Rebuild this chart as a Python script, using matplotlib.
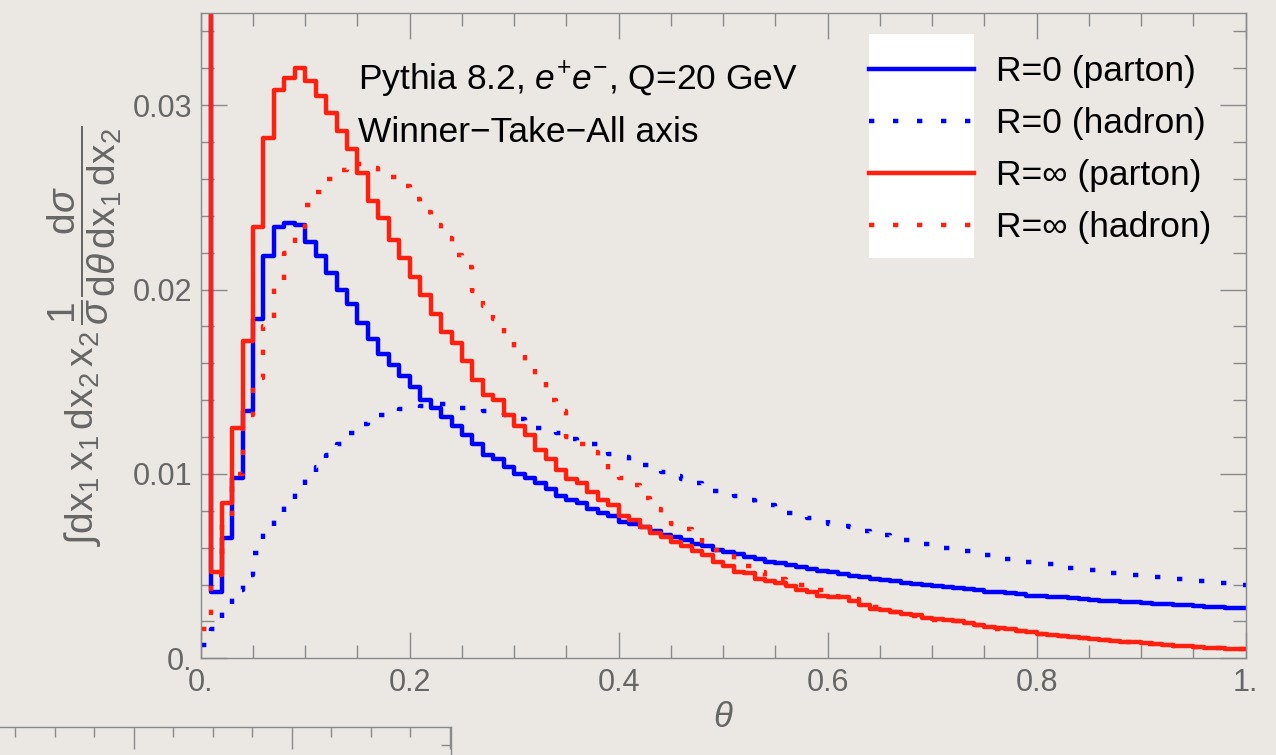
import numpy as np
import matplotlib
matplotlib.use("Agg")
import matplotlib.pyplot as plt
from matplotlib.ticker import MultipleLocator
from matplotlib.patches import Rectangle

# histogram bins: 100 bins of width 0.01 on [0, 1]
theta_edges = np.linspace(0.0, 1.0, 101)

# R=0 (parton)  -- first bin runs off the top of the plot
blue_parton = [
    0.06, 0.0036, 0.0065, 0.0098, 0.0134, 0.0184, 0.0218, 0.0234, 0.0236, 0.0235,
    0.0226, 0.0218, 0.0209, 0.0200, 0.0192, 0.0182, 0.0173, 0.0165, 0.0159, 0.0153,
    0.0147, 0.0140, 0.0136, 0.0131, 0.0126, 0.0121, 0.0116, 0.0110, 0.0108, 0.0104,
    0.0100, 0.0098, 0.0095, 0.0092, 0.0088, 0.0086, 0.0084, 0.0081, 0.0079, 0.0077,
    0.0074, 0.0073, 0.0071, 0.0069, 0.0067, 0.0066, 0.0064, 0.0062, 0.0061, 0.0059,
    0.00575, 0.00566, 0.00551, 0.00537, 0.00524, 0.00515, 0.00506, 0.00497, 0.00485, 0.00475,
    0.0047, 0.00457, 0.00448, 0.00439, 0.0043, 0.00425, 0.0042, 0.0041, 0.00405, 0.0040,
    0.0039, 0.00385, 0.0038, 0.00375, 0.0037, 0.00362, 0.00357, 0.00352, 0.00347, 0.0034,
    0.00336, 0.00333, 0.0033, 0.00325, 0.0032, 0.00316, 0.00313, 0.0031, 0.00306, 0.00303,
    0.0030, 0.00297, 0.00293, 0.0029, 0.00287, 0.00284, 0.0028, 0.00277, 0.00274, 0.00271,
]

# R=0 (hadron)
blue_hadron = [
    0.0007, 0.0016, 0.0027, 0.0037, 0.0045, 0.0057, 0.0068, 0.0076, 0.0083, 0.0090,
    0.0097, 0.0104, 0.0110, 0.0116, 0.0122, 0.0127, 0.0130, 0.0132, 0.0134, 0.0135,
    0.0136, 0.0137, 0.0138, 0.0138, 0.0136, 0.0136, 0.0135, 0.0134, 0.0133, 0.0132,
    0.0130, 0.0128, 0.0125, 0.0124, 0.0122, 0.0119, 0.0117, 0.0116, 0.0114, 0.0111,
    0.0109, 0.0107, 0.0105, 0.0103, 0.0101, 0.0099, 0.0097, 0.0095, 0.0093, 0.0091,
    0.0090, 0.0088, 0.0086, 0.0084, 0.0083, 0.0081, 0.0079, 0.0078, 0.0076, 0.0075,
    0.0073, 0.0072, 0.0071, 0.0069, 0.0068, 0.0067, 0.0066, 0.0064, 0.0063, 0.0062,
    0.0061, 0.0060, 0.0059, 0.0058, 0.0057, 0.0056, 0.0055, 0.0054, 0.0053, 0.0052,
    0.0052, 0.0051, 0.0050, 0.0049, 0.0049, 0.0048, 0.0047, 0.0046, 0.0046, 0.0045,
    0.0045, 0.0044, 0.0044, 0.0043, 0.0043, 0.0042, 0.0042, 0.0041, 0.0041, 0.0040,
]

# R=inf (parton)  -- first bin runs off the top of the plot
red_parton = [
    0.06, 0.0047, 0.0084, 0.0125, 0.0172, 0.0234, 0.0282, 0.0308, 0.0315, 0.0320,
    0.0313, 0.0305, 0.0296, 0.0286, 0.0276, 0.0263, 0.0248, 0.0239, 0.0227, 0.0217,
    0.0207, 0.0197, 0.0187, 0.0177, 0.0171, 0.0161, 0.0151, 0.0143, 0.0140, 0.0132,
    0.0126, 0.0121, 0.0113, 0.0108, 0.0102, 0.0097, 0.0095, 0.0090, 0.0086, 0.0083,
    0.0077, 0.0075, 0.0071, 0.0068, 0.0066, 0.0063, 0.0061, 0.0058, 0.0056, 0.0052,
    0.0050, 0.0047, 0.0046, 0.0043, 0.0042, 0.0041, 0.0039, 0.0037, 0.0036, 0.0034,
    0.0033, 0.0033, 0.0031, 0.0029, 0.0027, 0.0026, 0.0025, 0.0024, 0.00235, 0.0022,
    0.00215, 0.0021, 0.0020, 0.0019, 0.0018, 0.00172, 0.00165, 0.00158, 0.0015, 0.0014,
    0.0013, 0.00126, 0.0012, 0.00113, 0.00108, 0.00104, 0.0010, 0.00096, 0.00091, 0.00086,
    0.00081, 0.00077, 0.00072, 0.00068, 0.00065, 0.0006, 0.00056, 0.00054, 0.00051, 0.00049,
]

# R=inf (hadron)
red_hadron = [
    0.0016, 0.0045, 0.0075, 0.0100, 0.0132, 0.0152, 0.0180, 0.0202, 0.0220, 0.0234,
    0.0246, 0.0253, 0.0260, 0.0265, 0.0269, 0.0268, 0.0266, 0.0264, 0.0261, 0.0256,
    0.0249, 0.0242, 0.0235, 0.0228, 0.0219, 0.0212, 0.0199, 0.0191, 0.0184, 0.0176,
    0.0165, 0.0160, 0.0150, 0.0140, 0.0134, 0.0120, 0.0116, 0.0112, 0.0107, 0.0102,
    0.0098, 0.0094, 0.0087, 0.0081, 0.0076, 0.0073, 0.0070, 0.0067, 0.0061, 0.0059,
    0.0057, 0.0053, 0.0050, 0.0047, 0.0044, 0.0043, 0.0042, 0.0040, 0.0039, 0.0037,
    0.0035, 0.0033, 0.0032, 0.0030, 0.0028, 0.0027, 0.0025, 0.0024, 0.0023, 0.0022,
    0.0021, 0.0021, 0.0020, 0.0019, 0.0018, 0.0017, 0.0016, 0.0016, 0.0015, 0.0014,
    0.0013, 0.0013, 0.0012, 0.0011, 0.0011, 0.0010, 0.0010, 0.00095, 0.0009, 0.00085,
    0.0008, 0.00076, 0.00072, 0.00068, 0.00064, 0.0006, 0.00057, 0.00054, 0.00051, 0.00049,
]

series_labels = ["R=0 (parton)", "R=0 (hadron)", "R=\u221e (parton)", "R=\u221e (hadron)"]
x_ticks = [0.0, 0.2, 0.4, 0.6, 0.8, 1.0]
x_tick_labels = ["0.", "0.2", "0.4", "0.6", "0.8", "1."]
y_ticks = [0.0, 0.01, 0.02, 0.03]
y_tick_labels = ["0.", "0.01", "0.02", "0.03"]

plt.rcParams['font.family'] = ['Liberation Sans', 'DejaVu Sans']
plt.rcParams['mathtext.fontset'] = 'custom'
plt.rcParams['mathtext.rm'] = 'Liberation Sans'
plt.rcParams['mathtext.it'] = 'Liberation Sans:italic'
plt.rcParams['mathtext.bf'] = 'Liberation Sans:bold'

bg = '#ebe8e4'
gray = '#666666'
spine_gray = '#8a8a8a'
blue = '#0000ff'
red = '#ff2010'

fig = plt.figure(figsize=(12.76, 7.55), dpi=100, facecolor=bg)
ax = fig.add_axes([200.7 / 1276, 1 - 658.3 / 755, 1045 / 1276, 645.3 / 755])
ax.set_facecolor(bg)


def steps(vals):
    # repeat last value so the final step reaches theta = 1
    return list(vals) + [vals[-1]]


lw = 3.2
dots = (0, (1.2, 4.2))
ax.plot(theta_edges, steps(blue_parton), drawstyle='steps-post', color=blue, lw=lw,
        label=series_labels[0])
ax.plot(theta_edges, steps(blue_hadron), drawstyle='steps-post', color=blue, lw=lw,
        linestyle=dots, dash_capstyle='butt', label=series_labels[1])
ax.plot(theta_edges, steps(red_parton), drawstyle='steps-post', color=red, lw=lw,
        label=series_labels[2])
ax.plot(theta_edges, steps(red_hadron), drawstyle='steps-post', color=red, lw=lw,
        linestyle=dots, dash_capstyle='butt', label=series_labels[3])

ax.set_xlim(0, 1)
ax.set_ylim(0, 0.035)
ax.set_xticks(x_ticks)
ax.set_xticklabels(x_tick_labels)
ax.set_yticks(y_ticks)
ax.set_yticklabels(y_tick_labels)
ax.xaxis.set_minor_locator(MultipleLocator(0.05))
ax.yaxis.set_minor_locator(MultipleLocator(0.002))
ax.tick_params(which='both', direction='in', top=True, right=True, color=spine_gray,
               width=1.0, labelcolor=gray, labelsize=22)
ax.tick_params(which='major', length=18.7)
ax.tick_params(which='minor', length=9.4)
ax.tick_params(axis='x', pad=7)
ax.tick_params(axis='y', pad=6)
for s in ax.spines.values():
    s.set_color(spine_gray)
    s.set_linewidth(1.0)

ax.set_xlabel('\u03b8', fontsize=25, fontstyle='italic', color=gray, labelpad=2)
ax.set_ylabel(r'$\int\mathrm{dx}_1\,\mathrm{x}_1\,\mathrm{dx}_2\,\mathrm{x}_2\,'
              r'\dfrac{1}{\sigma}\dfrac{\mathrm{d}\sigma}{\mathrm{d}\theta\,\mathrm{dx}_1\,\mathrm{dx}_2}$',
              fontsize=28, color=gray, labelpad=6)

ax.text(0.1505, 0.03084, r'Pythia 8.2, $e^{+}e^{-}$, Q=20 GeV', fontsize=25.5,
        color='black', va='baseline', ha='left')
ax.text(0.1505, 0.02803, 'Winner\u2212Take\u2212All axis', fontsize=25.5,
        color='black', va='baseline', ha='left')

# white block behind the legend samples
ax.add_patch(Rectangle((869 / 1276, 1 - 258 / 755), 105 / 1276, 224 / 755,
                       transform=fig.transFigure, facecolor='white',
                       edgecolor='none', zorder=4, clip_on=False))
leg = ax.legend(loc='upper left', bbox_to_anchor=(869 / 1276, 1 - 55 / 755),
                bbox_transform=fig.transFigure, frameon=False, fontsize=25.5,
                borderpad=0, borderaxespad=0, handlelength=2.97, handletextpad=0.62,
                labelspacing=0.54)
leg.set_zorder(5)

# stray frame of a neighbouring plot at the bottom-left corner
ax2 = fig.add_axes([0, 0, 451 / 1276, 28 / 755])
ax2.set_facecolor('none')
ax2.set_xlim(-0.1696, 0.4013)
ax2.set_ylim(0, 1)
ax2.xaxis.set_major_locator(MultipleLocator(0.2))
ax2.xaxis.set_minor_locator(MultipleLocator(0.05))
ax2.set_yticks([0.35])
ax2.tick_params(which='both', direction='in', top=True, bottom=False, right=True,
                left=False, labeltop=False, labelbottom=False, labelleft=False,
                color=spine_gray, width=1.0)
ax2.tick_params(which='major', length=15.8)
ax2.tick_params(which='minor', length=7.5)
ax2.tick_params(axis='y', length=7.5)
for side in ['left', 'bottom']:
    ax2.spines[side].set_visible(False)
for side in ['top', 'right']:
    ax2.spines[side].set_color(spine_gray)
    ax2.spines[side].set_linewidth(1.0)

fig.savefig('out.png', dpi=100, facecolor=bg)
